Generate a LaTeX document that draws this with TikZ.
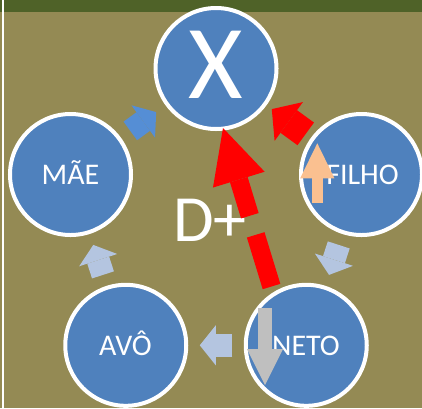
\documentclass[tikz,border=0pt]{standalone}
\usepackage{fontspec}
\setmainfont{Carlito}
\usetikzlibrary{arrows.meta}
\definecolor{bg}{HTML}{948A54}
\definecolor{band}{HTML}{4F6228}
\definecolor{nodeblue}{HTML}{4F81BD}
\definecolor{arrblue}{HTML}{558ED5}
\definecolor{lightblue}{HTML}{B4C5E0}
\definecolor{peach}{HTML}{FAC090}
\definecolor{arrgray}{HTML}{BFBFBF}
\begin{document}
\begin{tikzpicture}[x=1pt,y=-1pt,
  circ/.style={circle, fill=nodeblue, draw=white, line width=4pt, minimum size=121pt, inner sep=0pt},
  lbl/.style={text=white, anchor=base, inner sep=0pt, font=\fontsize{30}{36}\selectfont},
  cyc/.style={draw=#1, line width=23pt, shorten <=74pt, shorten >=74pt,
    -{Triangle[length=16pt,width=40pt,line width=0pt]}},
  redarr/.style={draw=red, line width=28pt, shorten <=69pt, shorten >=69pt,
    -{Triangle[length=21pt,width=48pt,line width=0pt]}},
  bigred/.style={draw=red, line width=18.4pt, dash pattern=on 54pt off 20pt on 400pt,
    -{Triangle[length=54pt,width=54pt,line width=0pt]}},
  peacharr/.style={draw=peach, line width=11.6pt,
    -{Triangle[length=35pt,width=34.3pt,line width=0pt]}},
  grayarr/.style={draw=arrgray, line width=13.3pt,
    -{Triangle[length=36pt,width=36pt,line width=0pt]}}
]
\useasboundingbox (0,0) rectangle (422,408);
\fill[bg] (0,0) rectangle (422,408);
\fill[band] (0,0) rectangle (422,12);
\draw[white, line width=1.6pt] (3.2,0) -- (3.2,408);

\node[circ] (x) at (216,68.5) {};
\node[circ] (mae) at (70.5,174.5) {};
\node[circ] (filho) at (361.5,174.5) {};
\node[circ] (avo) at (125.75,345.3) {};
\node[circ] (neto) at (306.25,345.3) {};

\node[lbl, font=\fontsize{105}{120}\selectfont] (tx) at (216,98.3) {X};
\node[lbl] (tmae) at (70.5,184) {MÃE};
\node[lbl] (tfilho) at (362.5,184) {FILHO};
\node[lbl] (tavo) at (125.5,355) {AVÔ};
\node[lbl] (tneto) at (306,355) {NETO};
\node[lbl, font=\fontsize{66}{72}\selectfont] (dplus) at (210,241.7) {D+};

\draw[cyc=arrblue] (mae.center) -- (x.center);
\draw[cyc=lightblue] (filho.center) -- (neto.center);
\draw[cyc=lightblue] (neto.center) -- (avo.center);
\draw[cyc=lightblue] (avo.center) -- (mae.center);
\draw[redarr] (filho.center) -- (x.center);

\coordinate (dtail) at (271.5,286.5);
\coordinate (dtip) at (223,128);
\draw[bigred] (dtail) -- (dtip);

\coordinate (pbot) at (317.3,203.3);
\coordinate (ptop) at (317.3,143.3);
\draw[peacharr] (pbot) -- (ptop);

\coordinate (gtop) at (265,308.3);
\coordinate (gbot) at (265,385);
\draw[grayarr] (gtop) -- (gbot);
\end{tikzpicture}
\end{document}
